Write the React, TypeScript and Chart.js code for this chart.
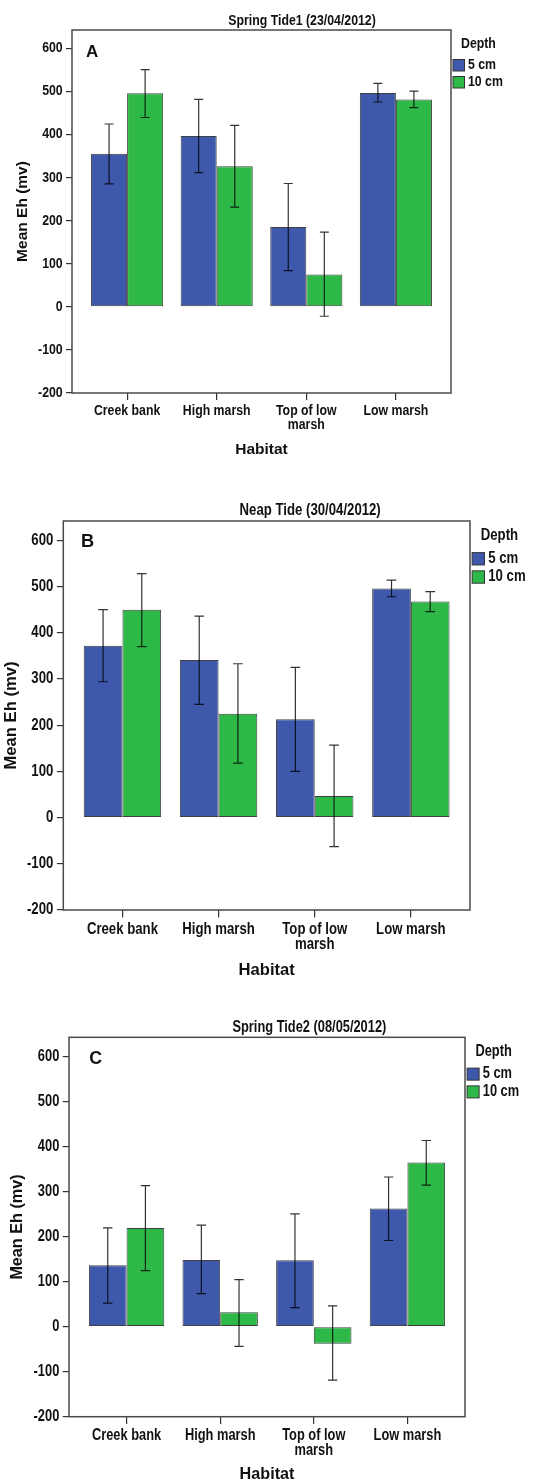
import React, { useEffect, useRef } from 'react';
import { Chart, registerables } from 'chart.js';

Chart.register(...registerables);

// ---------- data ----------
const habitats = ['Creek bank', 'High marsh', 'Top of low marsh', 'Low marsh'];
const habitatTickLines = [['Creek bank'], ['High marsh'], ['Top of low', 'marsh'], ['Low marsh']];
const depthLabels = ['5 cm', '10 cm'];
const yMin = -200;
const yMax = 642;
const yStep = 100;

// Panel A — Spring Tide1 (23/04/2012)
const a5 = [355, 396, 185, 496];
const a5Low = [285, 311, 84, 475];
const a5High = [424, 481, 286, 518];
const a10 = [495, 326, 75, 481];
const a10Low = [439, 231, -22, 462];
const a10High = [550, 421, 173, 500];

// Panel B — Neap Tide (30/04/2012)
const b5 = [372, 341, 213, 496];
const b5Low = [294, 245, 100, 478];
const b5High = [450, 436, 325, 514];
const b10 = [450, 225, 47, 468];
const b10Low = [370, 118, -63, 446];
const b10High = [528, 333, 157, 489];

// Panel C — Spring Tide2 (08/05/2012)
const c5 = [136, 148, 147, 262];
const c5Low = [52, 73, 42, 191];
const c5High = [219, 225, 250, 332];
const c10 = [219, 32, -38, 364];
const c10Low = [124, -44, -119, 314];
const c10High = [313, 104, 46, 413];

// ---------- style ----------
const ARIAL = "'Liberation Sans', Arial, sans-serif";
const NARROW_X = 0.82; // horizontal compression to mimic Arial Narrow
const BLUE = '#3E58AC';
const GREEN = '#2EB848';
const TEXT = '#111';

type PanelCfg = {
  title: string;
  letter: string;
  top: number;
  height: number;
  plot: { l: number; r: number; t: number; b: number };
  s: number;
  letterDx: number;
  letterDy: number;
  yTitleCenter: number;
  xTitleFromBottom: number;
  series: { values: number[]; low: number[]; high: number[] }[];
};

const panels: PanelCfg[] = [
  {
    title: 'Spring Tide1 (23/04/2012)', letter: 'A', top: 0, height: 480,
    plot: { l: 72, r: 451, t: 30, b: 393 }, s: 1, letterDx: 14, letterDy: 22,
    yTitleCenter: 22.5, xTitleFromBottom: 30.5,
    series: [{ values: a5, low: a5Low, high: a5High }, { values: a10, low: a10Low, high: a10High }],
  },
  {
    title: 'Neap Tide (30/04/2012)', letter: 'B', top: 480, height: 500,
    plot: { l: 63.3, r: 470, t: 41, b: 430 }, s: 1.072, letterDx: 17.7, letterDy: 21.3,
    yTitleCenter: 11, xTitleFromBottom: 10,
    series: [{ values: b5, low: b5Low, high: b5High }, { values: b10, low: b10Low, high: b10High }],
  },
  {
    title: 'Spring Tide2 (08/05/2012)', letter: 'C', top: 980, height: 502,
    plot: { l: 69, r: 465, t: 57.3, b: 436.7 }, s: 1.045, letterDx: 20.3, letterDy: 22,
    yTitleCenter: 18, xTitleFromBottom: 7,
    series: [{ values: c5, low: c5Low, high: c5High }, { values: c10, low: c10Low, high: c10High }],
  },
];

function narrowText(ctx: CanvasRenderingContext2D, text: string, x: number, y: number, size: number, align: CanvasTextAlign) {
  ctx.save();
  ctx.translate(x, y);
  ctx.scale(NARROW_X, 1);
  ctx.font = `bold ${size}px ${ARIAL}`;
  ctx.textAlign = align;
  ctx.textBaseline = 'middle';
  ctx.fillStyle = TEXT;
  ctx.fillText(text, 0, 0);
  ctx.restore();
}

const decorPlugin = {
  id: 'decor',
  afterDatasetsDraw(chart: any, _args: any, opts: any) {
    const ctx = chart.ctx;
    const xScale = chart.scales.x;
    const yScale = chart.scales.y;
    const s = opts.s;
    // error bars
    chart.data.datasets.forEach((ds: any, i: number) => {
      const meta = chart.getDatasetMeta(i);
      meta.data.forEach((el: any, j: number) => {
        const x = el.x;
        const yl = yScale.getPixelForValue(ds.errLow[j]);
        const yh = yScale.getPixelForValue(ds.errHigh[j]);
        const c = 4.5 * s;
        ctx.save();
        ctx.strokeStyle = 'rgba(0,0,0,0.8)';
        ctx.lineWidth = 1.2;
        ctx.beginPath();
        ctx.moveTo(x, yl); ctx.lineTo(x, yh);
        ctx.moveTo(x - c, yl); ctx.lineTo(x + c, yl);
        ctx.moveTo(x - c, yh); ctx.lineTo(x + c, yh);
        ctx.stroke();
        ctx.restore();
      });
    });
    const { left, right, top, bottom } = chart.chartArea;
    ctx.save();
    // frame
    ctx.strokeStyle = '#4a4a4a';
    ctx.lineWidth = 1.5;
    ctx.strokeRect(left, top, right - left, bottom - top);
    ctx.restore();

    const fs = 15 * s;
    // y tick labels
    yScale.ticks.forEach((t: any) => {
      narrowText(ctx, String(t.value), left - 9.3 * s, yScale.getPixelForValue(t.value), fs, 'right');
    });
    // x tick labels
    xScale.ticks.forEach((t: any) => {
      const lines = habitatTickLines[t.value] || [];
      const px = xScale.getPixelForValue(t.value);
      lines.forEach((ln: string, k: number) => {
        narrowText(ctx, ln, px, bottom + 17.8 * s + k * 14.25 * s, fs, 'center');
      });
    });
    // title
    narrowText(ctx, opts.title, left + 0.607 * (right - left), top - 9.5 * s, fs, 'center');
    // panel letter
    ctx.save();
    ctx.fillStyle = TEXT;
    ctx.textBaseline = 'middle';
    ctx.textAlign = 'left';
    ctx.font = `bold ${17 * s}px ${ARIAL}`;
    ctx.fillText(opts.letter, left + opts.letterDx, top + opts.letterDy);
    ctx.restore();
    // legend
    narrowText(ctx, 'Depth', right + 10 * s, top + 13.5 * s, fs, 'left');
    chart.data.datasets.forEach((ds: any, i: number) => {
      const by = top + 29.5 * s + i * 17 * s;
      const bs = 11.5 * s;
      ctx.save();
      ctx.fillStyle = ds.backgroundColor;
      ctx.fillRect(right + 2 * s, by, bs, bs);
      ctx.strokeStyle = '#333';
      ctx.lineWidth = 1;
      ctx.strokeRect(right + 2 * s, by, bs, bs);
      ctx.restore();
      narrowText(ctx, ds.label, right + 17 * s, by + bs / 2, fs, 'left');
    });
  },
};

function Panel({ cfg }: { cfg: PanelCfg }) {
  const ref = useRef<HTMLCanvasElement | null>(null);
  useEffect(() => {
    const canvas = ref.current;
    if (!canvas) return;
    const s = cfg.s;
    const W = 540;
    const colors = [BLUE, GREEN];
    const axisTitleSize = 15.5 * s;
    const axisTitleLH = 0.8;
    const chart = new Chart(canvas, {
      type: 'bar',
      data: {
        datasets: cfg.series.map((ser, i) => ({
          label: depthLabels[i],
          data: ser.values.map((v, j) => ({ x: j, y: v })),
          errLow: ser.low,
          errHigh: ser.high,
          backgroundColor: colors[i],
          borderColor: 'rgba(30,30,30,0.85)',
          borderWidth: 1,
          borderSkipped: false,
          categoryPercentage: 0.805,
          barPercentage: 1,
        })) as any,
      },
      plugins: [decorPlugin],
      options: {
        responsive: false,
        animation: false,
        devicePixelRatio: 1,
        layout: { padding: { left: 0, top: cfg.plot.t, right: W - cfg.plot.r, bottom: 0 } },
        plugins: {
          legend: { display: false },
          title: { display: false },
          tooltip: { enabled: false },
          decor: { s, title: cfg.title, letter: cfg.letter, letterDx: cfg.letterDx, letterDy: cfg.letterDy },
        } as any,
        scales: {
          x: {
            type: 'linear',
            min: -0.615,
            max: habitats.length - 1 + 0.615,
            offset: false,
            afterBuildTicks: (axis: any) => {
              axis.ticks = habitats.map((_, i) => ({ value: i }));
            },
            afterFit: (axis: any) => { axis.height = cfg.height - cfg.plot.b; },
            grid: { display: true, offset: false, drawOnChartArea: false, drawTicks: true, tickLength: 7 * s, color: '#333', lineWidth: 1.2 },
            border: { display: false },
            ticks: { display: false },
            title: {
              display: true,
              text: 'Habitat',
              color: TEXT,
              font: { family: ARIAL, size: axisTitleSize, weight: 'bold', lineHeight: axisTitleLH },
              padding: { top: 0, bottom: Math.max(0, cfg.xTitleFromBottom - (axisTitleSize * axisTitleLH) / 2) },
            },
          } as any,
          y: {
            type: 'linear',
            min: yMin,
            max: yMax,
            afterFit: (axis: any) => { axis.width = cfg.plot.l; },
            grid: { display: true, drawOnChartArea: false, drawTicks: true, tickLength: 6 * s, color: '#333', lineWidth: 1.2 },
            border: { display: false },
            ticks: { display: false, stepSize: yStep, includeBounds: false },
            title: {
              display: true,
              text: 'Mean Eh (mv)',
              color: TEXT,
              font: { family: ARIAL, size: axisTitleSize, weight: 'bold', lineHeight: axisTitleLH },
              padding: { top: Math.max(0, cfg.yTitleCenter - (axisTitleSize * axisTitleLH) / 2), bottom: 0 },
            },
          } as any,
        },
      },
    });
    return () => chart.destroy();
  }, [cfg]);
  return (
    <canvas
      ref={ref}
      width={540}
      height={cfg.height}
      style={{ position: 'absolute', left: 0, top: cfg.top, width: 540, height: cfg.height, display: 'block' }}
    />
  );
}

export default function App() {
  return (
    <div style={{ position: 'absolute', left: 0, top: 0, width: 540, height: 1482, background: '#fff', overflow: 'hidden' }}>
      {panels.map((p) => (
        <Panel key={p.letter} cfg={p} />
      ))}
    </div>
  );
}
